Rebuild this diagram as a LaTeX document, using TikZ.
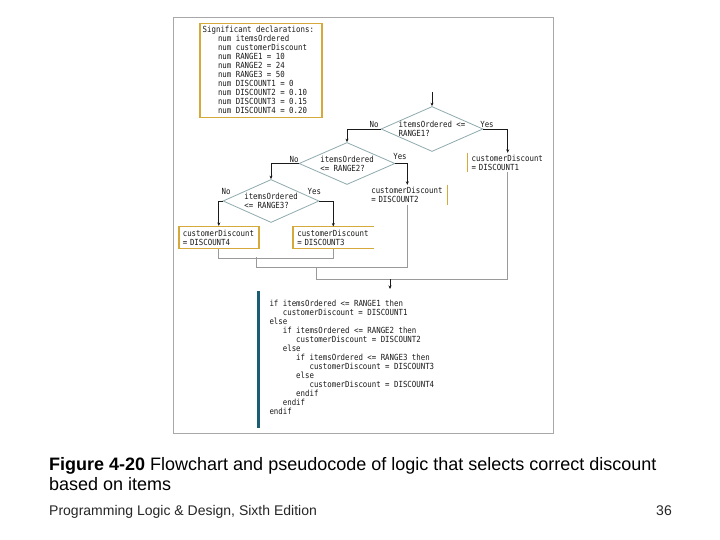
\documentclass[tikz,border=0pt]{standalone}
\usepackage{fontspec}
\setmainfont{Liberation Sans}
\newfontfamily\codefont[FakeStretch=0.88]{DejaVu Sans Mono}
\usetikzlibrary{shapes.geometric,arrows.meta}
\definecolor{frameclr}{HTML}{A8A8A8}
\definecolor{gold}{HTML}{D6AA3A}
\definecolor{diaclr}{HTML}{8FAAAE}
\definecolor{barclr}{HTML}{1B5E73}
\definecolor{mergeclr}{HTML}{9A9A9A}
\definecolor{ink}{HTML}{1A1A1A}
\newcommand{\ind}{\hspace*{13.35pt}}
\begin{document}
\begin{tikzpicture}[x=1pt,y=-1pt,
  code/.style={font=\codefont\fontsize{8.4}{9}\selectfont, text=ink, inner sep=0pt, align=left},
  decision/.style={shape=diamond, draw=diaclr, line width=0.8pt, inner sep=0pt},
  boxnode/.style={code, text width=72pt, inner xsep=4pt, inner ysep=0pt},
  flow/.style={draw=ink, line width=0.8pt},
  mergeline/.style={draw=mergeclr, line width=0.9pt},
  tip/.style={-{Stealth[length=3.5pt,width=3pt]}},
  lbl/.style={code},
  goldline/.style={draw=gold, line width=1.5pt}
]
\useasboundingbox (0,0) rectangle (720,540);
\fill[white] (0,0) rectangle (720,540);

% outer frame
\node[draw=frameclr, line width=1pt, minimum width=380.5pt, minimum height=415.5pt, inner sep=0pt, anchor=north west] (frame) at (172.5,17.5) {};

% declarations
\node[goldline, minimum width=122pt, minimum height=94pt, inner sep=0pt, anchor=north west] (decl) at (199,23) {};
\node[code, anchor=north west] (decltext) at (202.5,26.3) {Significant declarations:\\
\hspace*{15.3pt}num itemsOrdered\\
\hspace*{15.3pt}num customerDiscount\\
\hspace*{15.3pt}num RANGE1 = 10\\
\hspace*{15.3pt}num RANGE2 = 24\\
\hspace*{15.3pt}num RANGE3 = 50\\
\hspace*{15.3pt}num DISCOUNT1 = 0\\
\hspace*{15.3pt}num DISCOUNT2 = 0.10\\
\hspace*{15.3pt}num DISCOUNT3 = 0.15\\
\hspace*{15.3pt}num DISCOUNT4 = 0.20};

% decisions
\node[decision, minimum width=102pt, minimum height=45pt] (d1) at (432,129) {};
\node[code] (t1) at (d1.center) {itemsOrdered <=\\RANGE1?};
\node[decision, minimum width=96pt, minimum height=42pt] (d2) at (347,163.5) {};
\node[code] (t2) at (d2.center) {itemsOrdered\\<= RANGE2?};
\node[decision, minimum width=96pt, minimum height=43pt] (d3) at (271,201) {};
\node[code] (t3) at (d3.center) {itemsOrdered\\<= RANGE3?};

% process boxes
\node[boxnode, minimum height=19pt] (b1) at (507.7,162.5) {customerDiscount\\= DISCOUNT1};
\node[boxnode, minimum height=20pt] (b2) at (407.3,195) {customerDiscount\\= DISCOUNT2};
\node[boxnode, minimum height=21.6pt, goldline] (b4) at (218.8,237.5) {customerDiscount\\= DISCOUNT4};
\node[boxnode, minimum height=21.6pt] (b3) at (333.3,237.5) {customerDiscount\\= DISCOUNT3};
\draw[goldline] (b1.north west) -- (b1.south west);
\draw[goldline] (b2.north east) -- (b2.south east);
\draw[goldline] (b3.north east) -- (b3.north west) -- (b3.south west) -- (b3.south east);

% labels
\node[lbl] (n1) at (374,124) {No};
\node[lbl] (y1) at (487,124) {Yes};
\node[lbl] (n2) at (294,159.3) {No};
\node[lbl] (y2) at (400,156.3) {Yes};
\node[lbl] (n3) at (226,191) {No};
\node[lbl] (y3) at (314.3,191) {Yes};

% flow connectors
\coordinate (entry) at (432,92);
\draw[flow, tip] (entry) -- (d1.north);
\draw[flow, tip] (d1.west) -| (d2.north);
\draw[flow, tip] (d1.east) -| (b1.north);
\draw[flow, tip] (d2.west) -| (d3.north);
\draw[flow, tip] (d2.east) -| (b2.north);
\draw[flow, tip] (d3.west) -| (b4.north);
\draw[flow, tip] (d3.east) -| (b3.north);

% merging lines
\draw[mergeline] (b4.south) -- ++(0,9) -| (b3.south);
\coordinate (j1) at (256,257.3);
\draw[mergeline] (j1) -- ++(0,10) -| (b2.south);
\coordinate (j2) at (316.7,267.3);
\draw[mergeline] (j2) -- ++(0,11.7) -| (b1.south);
\coordinate (j3) at (390,279);
\coordinate (codetop) at (390,289);
\draw[flow, tip] (j3) -- (codetop);

% pseudocode
\fill[barclr] (256.8,291) rectangle (259.8,427.7);
\node[code, anchor=north west] (pseudo) at (269.3,299.5) {if itemsOrdered <= RANGE1 then\\
\ind customerDiscount = DISCOUNT1\\
else\\
\ind if itemsOrdered <= RANGE2 then\\
\ind\ind customerDiscount = DISCOUNT2\\
\ind else\\
\ind\ind if itemsOrdered <= RANGE3 then\\
\ind\ind\ind customerDiscount = DISCOUNT3\\
\ind\ind else\\
\ind\ind\ind customerDiscount = DISCOUNT4\\
\ind\ind endif\\
\ind endif\\
endif};

% caption
\node[anchor=base west, inner sep=0pt, font=\fontsize{18}{20}\selectfont] (cap1) at (49,470) {\textbf{Figure 4-20} Flowchart and pseudocode of logic that selects correct discount};
\node[anchor=base west, inner sep=0pt, font=\fontsize{18}{20}\selectfont] (cap2) at (49,490) {based on items};
\node[anchor=base west, inner sep=0pt, font=\fontsize{14}{16}\selectfont, text=black!85] (foot) at (49,515) {Programming Logic \& Design, Sixth Edition};
\node[anchor=base east, inner sep=0pt, font=\fontsize{14}{16}\selectfont, text=black!85] (page) at (672,515) {36};
\end{tikzpicture}
\end{document}
